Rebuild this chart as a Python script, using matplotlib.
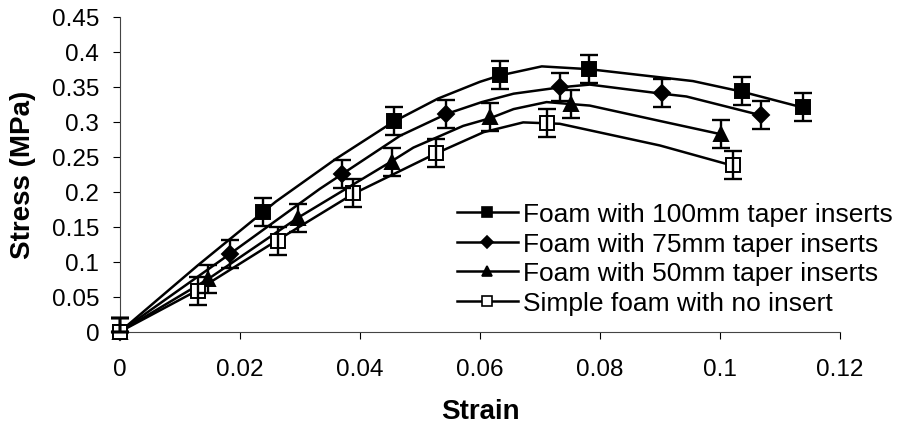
import matplotlib
matplotlib.use("Agg")
import matplotlib.pyplot as plt
from matplotlib.lines import Line2D

plt.rcParams['font.family'] = ['Liberation Sans', 'DejaVu Sans']

labels = ["Foam with 100mm taper inserts", "Foam with 75mm taper inserts",
          "Foam with 50mm taper inserts", "Simple foam with no insert"]

# measured points (markers with error bars)
x100 = [0, 0.0239, 0.0456, 0.0633, 0.0782, 0.1036, 0.1139]
y100 = [0, 0.171, 0.301, 0.366, 0.375, 0.344, 0.321]
x75 = [0, 0.0183, 0.037, 0.0544, 0.0733, 0.0903, 0.1069]
y75 = [0, 0.111, 0.225, 0.311, 0.349, 0.341, 0.309]
x50 = [0, 0.0147, 0.0297, 0.0453, 0.0617, 0.0752, 0.1002]
y50 = [0, 0.0753, 0.163, 0.242, 0.306, 0.325, 0.282]
x0 = [0, 0.0130, 0.0263, 0.0389, 0.0527, 0.0711, 0.1022]
y0 = [0, 0.0586, 0.130, 0.198, 0.255, 0.298, 0.238]
err_lo = [0, 0.02, 0.02, 0.02, 0.02, 0.02, 0.02]
err_hi = [0.02, 0.02, 0.02, 0.02, 0.02, 0.02, 0.02]

# curve vertices
cx100 = [0, 0.013, 0.026, 0.036, 0.0456, 0.053, 0.060, 0.0633, 0.0703, 0.0782, 0.0955, 0.1036, 0.1139]
cy100 = [0, 0.095, 0.186, 0.247, 0.300, 0.333, 0.357, 0.366, 0.379, 0.375, 0.358, 0.343, 0.320]
cx75 = [0, 0.0183, 0.0333, 0.037, 0.0467, 0.0544, 0.0603, 0.0656, 0.0733, 0.0783, 0.0903, 0.0944, 0.1069]
cy75 = [0, 0.111, 0.204, 0.225, 0.280, 0.311, 0.328, 0.340, 0.349, 0.353, 0.340, 0.336, 0.309]
cx50 = [0, 0.0147, 0.0297, 0.045, 0.0489, 0.0572, 0.0617, 0.0656, 0.0711, 0.0783, 0.090, 0.1002]
cy50 = [0, 0.0753, 0.163, 0.242, 0.263, 0.294, 0.305, 0.318, 0.328, 0.323, 0.301, 0.282]
cx0 = [0, 0.0128, 0.0261, 0.0389, 0.0525, 0.0606, 0.0672, 0.0733, 0.090, 0.1022]
cy0 = [0, 0.0586, 0.130, 0.197, 0.254, 0.285, 0.299, 0.297, 0.266, 0.237]

xticks = [0, 0.02, 0.04, 0.06, 0.08, 0.1, 0.12]
xticklabels = ["0", "0.02", "0.04", "0.06", "0.08", "0.1", "0.12"]
yticks = [0, 0.05, 0.1, 0.15, 0.2, 0.25, 0.3, 0.35, 0.4, 0.45]
yticklabels = ["0", "0.05", "0.1", "0.15", "0.2", "0.25", "0.3", "0.35", "0.4", "0.45"]

fig = plt.figure(figsize=(9.04, 4.27), dpi=100)
ax = fig.add_axes([0.1327, 0.2208, 0.7965, 0.7378])

series = [
    (x100, y100, cx100, cy100, 's', 10.5, 'black'),
    (x75, y75, cx75, cy75, 'D', 8.5, 'black'),
    (x50, y50, cx50, cy50, '^', 10.5, 'black'),
    (x0, y0, cx0, cy0, 's', 9.5, 'white'),
]
handles = []
for (xs, ys, cx, cy, m, ms, fc), lab in zip(series, labels):
    ax.plot(cx, cy, color='black', lw=1.8, zorder=2, clip_on=False)
    ax.plot(xs, ys, linestyle='none', marker=m, ms=ms, mfc=fc, mec='black',
            mew=1.4, zorder=3, clip_on=False)
    ax.errorbar(xs, ys, yerr=[err_lo, err_hi], fmt='none', ecolor='black',
                elinewidth=1.7, capsize=6.5, capthick=1.7, zorder=4, clip_on=False)
    handles.append(Line2D([], [], color='black', lw=1.8, marker=m, ms=ms*0.75,
                          mfc=fc, mec='black', mew=1.2))

ax.set_xlim(0, 0.12)
ax.set_ylim(0, 0.45)
ax.set_xticks(xticks)
ax.set_xticklabels(xticklabels)
ax.set_yticks(yticks)
ax.set_yticklabels(yticklabels)
ax.tick_params(axis='both', labelsize=17.5, direction='out', length=5, width=0.8, colors='black')
ax.tick_params(axis='x', pad=14)
ax.tick_params(axis='y', pad=10)
for s in ['top', 'right']:
    ax.spines[s].set_visible(False)
for s in ['left', 'bottom']:
    ax.spines[s].set_linewidth(0.8)
    ax.spines[s].set_color('#444444')

ax.set_xlabel("Strain", fontsize=20, fontweight='bold', labelpad=13)
ax.set_ylabel("Stress (MPa)", fontsize=20, fontweight='bold', labelpad=11)

leg = ax.legend(handles, labels, loc='lower right', bbox_to_anchor=(1.099, -0.005),
                frameon=False, fontsize=19, handlelength=2.3, handletextpad=0.2,
                labelspacing=0.21, borderpad=0.2)

fig.savefig("out.png", dpi=100)
